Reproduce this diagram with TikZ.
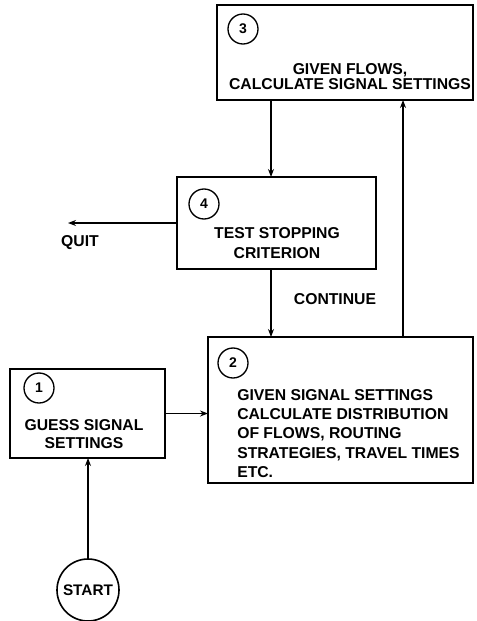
\documentclass[tikz,border=0pt]{standalone}
\usepackage{fontspec}
\setmainfont{Liberation Sans}
\usetikzlibrary{arrows.meta}
\tikzset{
  stagebox/.style={draw, line width=1.3pt, rectangle, inner sep=0pt, outer sep=0pt},
  numcirc/.style={draw, circle, line width=1pt, minimum size=22.5pt, inner sep=0pt,
    font=\bfseries\fontsize{10.5}{12}\selectfont},
  lbl/.style={font=\bfseries\fontsize{11.8}{13}\selectfont, inner sep=0pt},
  flow/.style={line width=0.9pt, -{Stealth[length=6pt,width=4.5pt]}},
}
\begin{document}
\begin{tikzpicture}[x=0.75pt, y=-0.75pt]
\useasboundingbox (0,0) rectangle (476,621);

% stage boxes
\node[stagebox, minimum width=192pt, minimum height=71.25pt] (b3) at (345,52.5) {};
\node[stagebox, minimum width=149.25pt, minimum height=69pt] (b4) at (276.5,223) {};
\node[stagebox, minimum width=198.75pt, minimum height=109.5pt] (b2) at (340.5,410) {};
\node[stagebox, minimum width=116.25pt, minimum height=66.75pt] (b1) at (87.5,413.5) {};
\node[draw, circle, line width=1.2pt, minimum size=46.5pt, inner sep=0pt, outer sep=0pt,
      font=\bfseries\fontsize{11.5}{13}\selectfont] (start) at (88,590) {START};

% step numbers
\node[numcirc] (n3) at (243,29) {3};
\node[numcirc] (n4) at (204,204) {4};
\node[numcirc] (n2) at (233,363) {2};
\node[numcirc] (n1) at (39,388) {1};

% box texts
\node[lbl, align=center, font=\bfseries\fontsize{11.8}{11.25}\selectfont] (t3) at (350,76.5)
  {GIVEN FLOWS,\\CALCULATE SIGNAL SETTINGS};
\node[lbl, align=center, font=\bfseries\fontsize{11.8}{15}\selectfont] (t4) at (277,243)
  {TEST STOPPING\\CRITERION};
\node[lbl, align=left, anchor=west, font=\bfseries\fontsize{11.8}{14.4}\selectfont] (t2) at (237,433.5)
  {GIVEN SIGNAL SETTINGS\\CALCULATE DISTRIBUTION\\OF FLOWS, ROUTING\\STRATEGIES, TRAVEL TIMES\\ETC.};
\node[lbl, align=center, font=\bfseries\fontsize{11.8}{13.5}\selectfont] (t1) at (84,434)
  {GUESS SIGNAL\\SETTINGS};
\node[lbl] (cont) at (335,299) {CONTINUE};
\node[lbl] (quit) at (80,243) {QUIT};

% connectors
\coordinate (xa) at (271,0);
\coordinate (xb) at (403,0);
\coordinate (qend) at (68,223);
\draw[flow] (b3.south -| xa) -- (b4.north -| xa);
\draw[flow] (b4.south -| xa) -- (b2.north -| xa);
\draw[flow] (b2.north -| xb) -- (b3.south -| xb);
\draw[flow] (b4.west) -- (qend);
\draw[flow] (b1.east) -- (b2.west |- b1.east);
\draw[flow] (start.north) -- (b1.south -| start.north);
\end{tikzpicture}
\end{document}
